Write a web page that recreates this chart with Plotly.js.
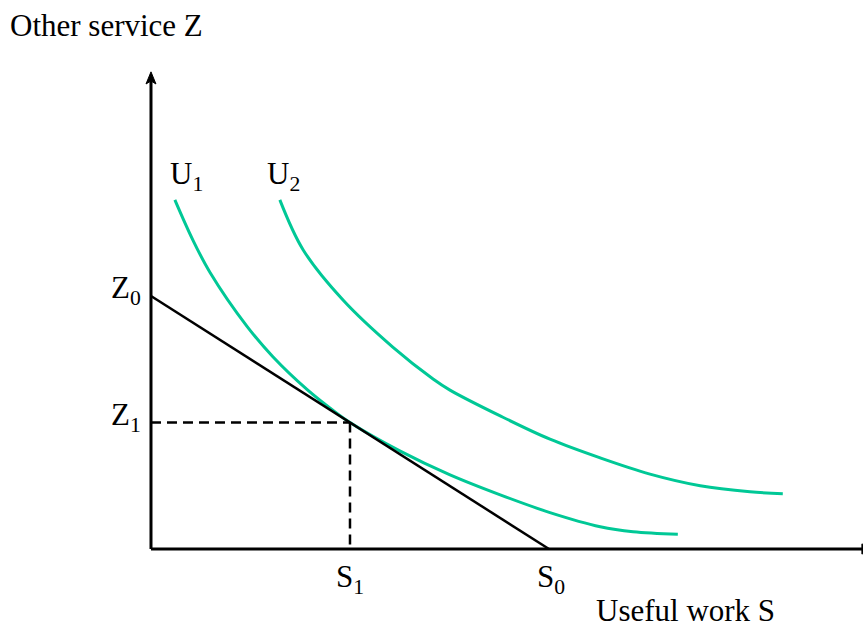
<!DOCTYPE html>
<html>
<head>
<meta charset="utf-8">
<script src="https://cdn.plot.ly/plotly-3.0.1.min.js"></script>
<style>html,body{margin:0;padding:0;background:#fff;}#chart{width:863px;height:630px;}</style>
</head>
<body>
<div id="chart"></div>
<script>
// ---- data ----
const u1S = [0.48, 0.84, 1.19, 1.93, 2.45, 3.14, 3.70, 4.00, 5.00, 6.00, 7.02, 8.02, 9.03, 9.69, 10.59];
const u1Z = [6.90, 6.11, 5.46, 4.40, 3.80, 3.15, 2.71, 2.50, 1.94, 1.47, 1.07, 0.72, 0.44, 0.34, 0.29];
const u2S = [2.59, 3.06, 3.86, 4.86, 5.67, 6.01, 7.02, 8.02, 9.03, 10.03, 11.04, 12.04, 12.70];
const u2Z = [6.90, 5.91, 4.92, 3.99, 3.36, 3.14, 2.63, 2.17, 1.80, 1.48, 1.25, 1.13, 1.09];
const budgetS = [0, 8];
const budgetZ = [5, 0];
const S1 = 4, Z1 = 2.5, S0 = 8, Z0 = 5;
const axisTopZ = 9.43;
const labelFont = {family: 'Liberation Serif, Times New Roman, serif', size: 31, color: '#000'};
const green = '#00C896';

const traces = [
  {x: u1S, y: u1Z, mode: 'lines', line: {color: green, width: 3, shape: 'spline', smoothing: 1}},
  {x: u2S, y: u2Z, mode: 'lines', line: {color: green, width: 3, shape: 'spline', smoothing: 1}},
  {x: budgetS, y: budgetZ, mode: 'lines', line: {color: '#000', width: 2.5}},
  {x: [0, S1], y: [Z1, Z1], mode: 'lines', line: {color: '#000', width: 2.5, dash: '10px,6px'}},
  {x: [S1, S1], y: [Z1, 0], mode: 'lines', line: {color: '#000', width: 2.5, dash: '10px,6px'}}
];

const shapes = [
  {type: 'line', xref: 'x', yref: 'y', x0: 0, y0: 0, x1: 0, y1: 9.25, line: {color: '#000', width: 3}},
  {type: 'line', xref: 'x', yref: 'y', x0: 0, y0: 0, x1: 14.4, y1: 0, line: {color: '#000', width: 3}},
  {type: 'path', xref: 'x', yref: 'y', path: 'M -0.1,9.19 L 0,' + axisTopZ + ' L 0.1,9.19 L 0,9.25 Z', fillcolor: '#000', line: {color: '#000', width: 1}},
  {type: 'path', xref: 'x', yref: 'y', path: 'M 14.29,-0.1 L 14.53,0 L 14.29,0.1 Z', fillcolor: '#000', line: {color: '#000', width: 1}}
];

const ann = (o) => Object.assign({showarrow: false, font: labelFont}, o);
const annotations = [
  ann({xref: 'paper', yref: 'paper', x: 8/863, y: 1 - 6/630, xanchor: 'left', yanchor: 'top', text: 'Other service Z'}),
  ann({xref: 'paper', yref: 'paper', x: 594/863, y: 0, xanchor: 'left', yanchor: 'bottom', text: 'Useful work S'}),
  ann({xref: 'x', yref: 'y', x: 0, y: Z0, xanchor: 'right', yanchor: 'middle', xshift: -8, yshift: 6, text: 'Z<sub>0</sub>'}),
  ann({xref: 'x', yref: 'y', x: 0, y: Z1, xanchor: 'right', yanchor: 'middle', xshift: -8, yshift: 6, text: 'Z<sub>1</sub>'}),
  ann({xref: 'x', yref: 'y', x: S1, y: 0, xanchor: 'center', yanchor: 'top', yshift: -8, text: 'S<sub>1</sub>'}),
  ann({xref: 'x', yref: 'y', x: S0, y: 0, xanchor: 'center', yanchor: 'top', xshift: 2, yshift: -8, text: 'S<sub>0</sub>'}),
  ann({xref: 'x', yref: 'y', x: u1S[0], y: u1Z[0], xanchor: 'left', yanchor: 'bottom', xshift: -7, yshift: 2, text: 'U<sub>1</sub>'}),
  ann({xref: 'x', yref: 'y', x: u2S[0], y: u2Z[0], xanchor: 'left', yanchor: 'bottom', xshift: -15, yshift: 2, text: 'U<sub>2</sub>'})
];

const layout = {
  width: 863, height: 630,
  margin: {l: 0, r: 0, t: 0, b: 0},
  paper_bgcolor: '#fff', plot_bgcolor: '#fff',
  showlegend: false,
  xaxis: {range: [-3.035, 14.312], visible: false, showgrid: false, zeroline: false, fixedrange: true},
  yaxis: {range: [-1.601, 10.850], visible: false, showgrid: false, zeroline: false, fixedrange: true},
  shapes: shapes,
  annotations: annotations
};

Plotly.newPlot('chart', traces, layout, {staticPlot: true});
</script>
</body>
</html>
